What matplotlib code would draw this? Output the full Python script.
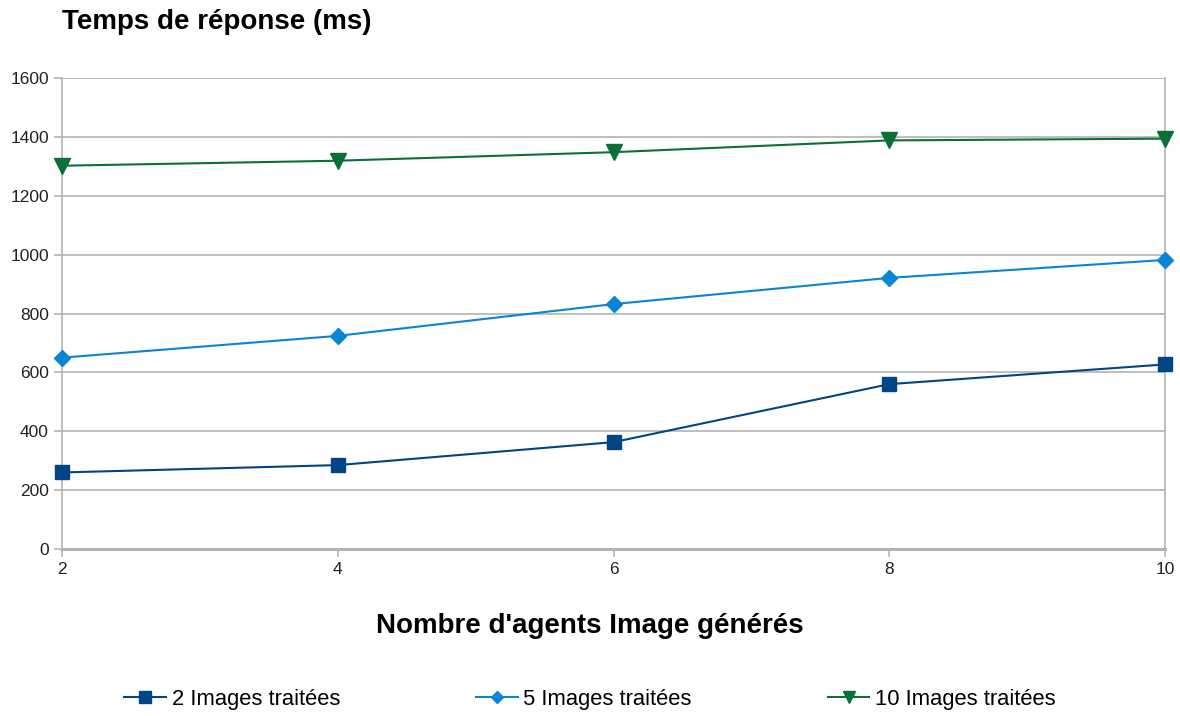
import matplotlib.pyplot as plt

plt.rcParams['font.family'] = ['Liberation Sans', 'DejaVu Sans']

# data
agents = [2, 4, 6, 8, 10]
images_2 = [260, 285, 363, 560, 627]
images_5 = [650, 724, 832, 921, 982]
images_10 = [1302, 1319, 1348, 1388, 1394]
series_labels = ["2 Images traitées", "5 Images traitées", "10 Images traitées"]

fig = plt.figure(figsize=(11.8, 7.16), dpi=100)
ax = fig.add_axes([62 / 1180, 1 - 549 / 716, (1165 - 62) / 1180, (549 - 78) / 716])

ax.plot(agents, images_2, color="#004586", marker="s", markersize=10, linewidth=1.5,
        label=series_labels[0], clip_on=False, zorder=3)
ax.plot(agents, images_5, color="#0a84d6", marker="D", markersize=8, linewidth=1.5,
        label=series_labels[1], clip_on=False, zorder=3)
ax.plot(agents, images_10, color="#0b7038", marker="v", markersize=11, linewidth=1.5,
        label=series_labels[2], clip_on=False, zorder=3)

ax.set_xlim(2, 10)
ax.set_ylim(0, 1600)
ax.set_xticks(agents)
ax.set_yticks(range(0, 1601, 200))
ax.yaxis.grid(True, color="#b3b3b3", linewidth=1.2)
ax.set_axisbelow(True)

for side in ["left", "right", "top"]:
    ax.spines[side].set_color("#b3b3b3")
    ax.spines[side].set_linewidth(1.2)
ax.spines["top"].set_visible(False)
ax.spines["bottom"].set_color("#b3b3b3")
ax.spines["bottom"].set_linewidth(2.2)
ax.tick_params(axis="both", colors="#b3b3b3", labelcolor="#222222", labelsize=12.5,
               length=6, width=1.2)

fig.text(62 / 1180, 1 - 22 / 716, "Temps de réponse (ms)", fontsize=20, fontweight="bold",
         ha="left", va="center")
fig.text(0.5, 1 - 626 / 716, "Nombre d'agents Image générés", fontsize=20,
         fontweight="bold", ha="center", va="center")

fig.legend(loc="center", bbox_to_anchor=(0.5, 1 - 699 / 716), ncol=3, frameon=False,
           fontsize=15.8, columnspacing=6.2, handlelength=1.9, handletextpad=0.25,
           markerscale=0.8)

fig.savefig("out.png", dpi=100, facecolor="white")
